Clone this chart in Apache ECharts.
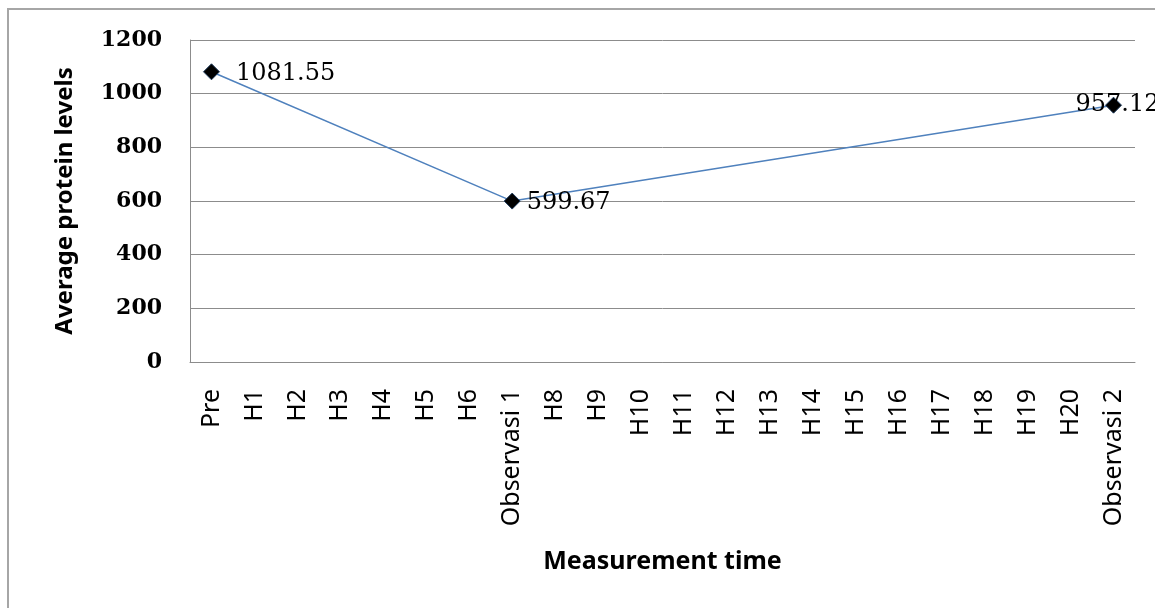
<!DOCTYPE html>
<html>
<head>
<meta charset="utf-8">
<script src="https://cdn.jsdelivr.net/npm/echarts@6/dist/echarts.min.js"></script>
<style>html,body{margin:0;padding:0;background:#fff;}#c{width:1155px;height:608px;}</style>
</head>
<body>
<div id="c"></div>
<script>
var categories = ['Pre','H1','H2','H3','H4','H5','H6','Observasi 1','H8','H9','H10','H11','H12','H13','H14','H15','H16','H17','H18','H19','H20','Observasi 2'];
var values = [1081.55,null,null,null,null,null,null,599.67,null,null,null,null,null,null,null,null,null,null,null,null,null,957.12];
var yTicks = [0,200,400,600,800,1000,1200];

var chart = echarts.init(document.getElementById('c'), null, {renderer:'canvas'});
var seriesData = values.map(function(v, i){
  if (v === null) return null;
  var item = {value: v};
  if (i === values.length - 1) {
    item.label = {position: 'inside', offset: [4, 0]};
  } else if (i === 7) {
    item.label = {offset: [-10, 2]};
  } else {
    item.label = {offset: [0, 2]};
  }
  return item;
});
chart.setOption({
  animation: false,
  backgroundColor: '#fff',
  graphic: [{
    type: 'rect', shape: {x: 8, y: 9, width: 1200, height: 700},
    style: {fill: 'none', stroke: '#a6a6a6', lineWidth: 2}, silent: true, z: -1
  }],
  grid: {left: 190, top: 40, right: 20, bottom: 246, containLabel: false},
  xAxis: {
    type: 'category', data: categories, boundaryGap: true,
    axisLine: {show: true, lineStyle: {color: '#8c8c8c', width: 1}},
    axisTick: {show: false},
    axisLabel: {rotate: 90, interval: 0, margin: 27, color: '#000', fontFamily: 'Noto Sans', fontSize: 25},
    name: 'Measurement time', nameLocation: 'middle', nameGap: 187,
    nameTextStyle: {color: '#000', fontFamily: 'Noto Sans', fontWeight: 'bold', fontSize: 25}
  },
  yAxis: {
    type: 'value', min: yTicks[0], max: yTicks[yTicks.length-1], interval: 200,
    axisLine: {show: true, lineStyle: {color: '#8c8c8c', width: 1}},
    axisTick: {show: false},
    splitLine: {show: true, lineStyle: {color: '#8c8c8c', width: 1}},
    axisLabel: {margin: 28, color: '#000', fontFamily: 'DejaVu Serif', fontWeight: 'bold', fontSize: 22,
      formatter: function(v){ return String(v); }},
    name: 'Average protein levels', nameLocation: 'middle', nameGap: 113,
    nameTextStyle: {color: '#000', fontFamily: 'Noto Sans', fontWeight: 'bold', fontSize: 24}
  },
  series: [{
    type: 'line', data: seriesData, connectNulls: true,
    symbol: 'diamond', symbolSize: 16, showAllSymbol: true,
    itemStyle: {color: '#000', borderColor: '#1f3b5c', borderWidth: 1},
    lineStyle: {color: '#4f81bd', width: 1.5},
    label: {show: true, position: 'right', distance: 16, color: '#000', fontFamily: 'DejaVu Serif', fontSize: 24,
      formatter: function(p){ return p.value.toFixed(2); }}
  }]
});
</script>
</body>
</html>
